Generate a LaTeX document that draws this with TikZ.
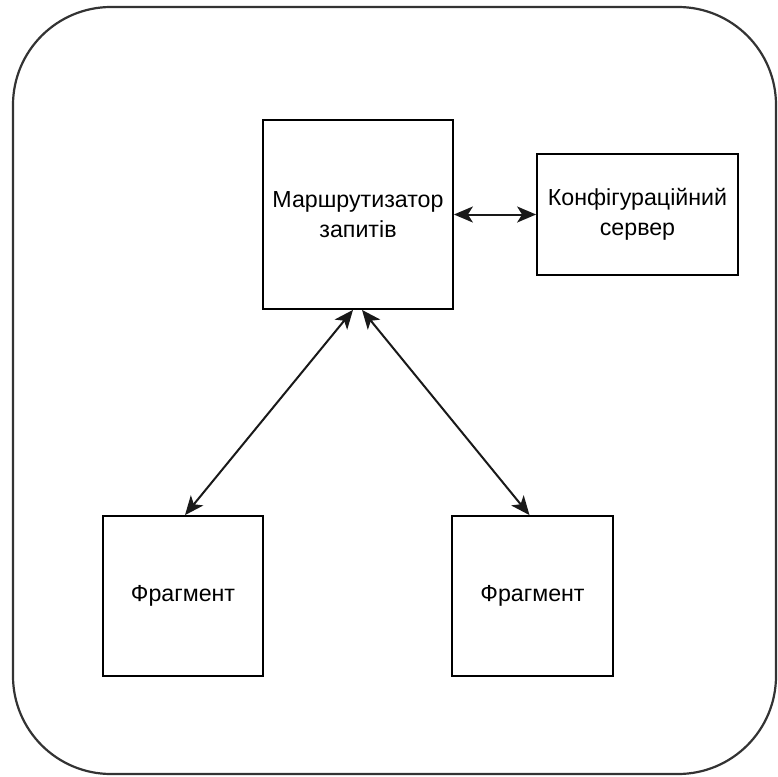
\documentclass[tikz,border=0pt]{standalone}
\usepackage{fontspec}
\setmainfont{Liberation Sans}
\usetikzlibrary{arrows.meta}
\begin{document}
\begin{tikzpicture}[x=1pt,y=-1pt,
  block/.style={draw=black, line width=1.8pt, fill=white, inner sep=0pt,
    align=center, font=\fontsize{23.2}{29.5}\selectfont, text=black},
  link/.style={line width=2pt, draw=black!90,
    {Stealth[length=19pt,width=16pt,inset=5pt]}-{Stealth[length=19pt,width=16pt,inset=5pt]}}
]
\useasboundingbox (0,0) rectangle (778,776);
% outer frame
\draw[line width=2.2pt, draw=black!80, rounded corners=98pt] (13,7) rectangle (776,774);

% boxes
\node[block, minimum width=190pt, minimum height=189pt] (router) at (358,214.5)
  {Маршрутизатор\\запитів};
\node[block, minimum width=201pt, minimum height=121pt] (config) at (637.5,214.5)
  {Конфігураційний\\сервер};
\node[block, minimum width=160pt, minimum height=160pt] (frag1) at (183,596) {Фрагмент};
\node[block, minimum width=161pt, minimum height=160pt] (frag2) at (532.5,596) {Фрагмент};

% connectors
\draw[link] (router.east) -- (config.west);
\draw[link] ([xshift=-5pt]router.south) -- ([xshift=2pt]frag1.north);
\draw[link] ([xshift=4pt]router.south) -- ([xshift=-3pt]frag2.north);
\end{tikzpicture}
\end{document}
